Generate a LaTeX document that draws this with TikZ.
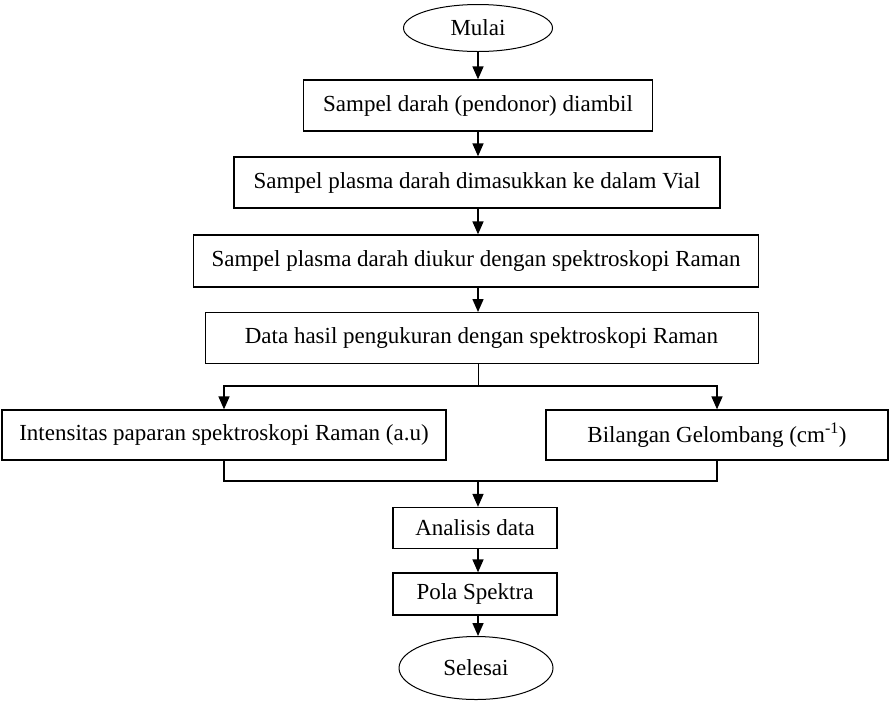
\documentclass[tikz,border=0pt]{standalone}
\usepackage{fontspec}
\setmainfont{Liberation Serif}
\usetikzlibrary{shapes.geometric,arrows.meta}
\begin{document}
\begin{tikzpicture}[
	x=1pt, y=-1pt,
	every node/.style={ font=\fontsize{23}{27}\selectfont },
	box/.style={ rectangle, draw, line width=1.3pt, inner sep=0pt },
	term/.style={ ellipse, draw, line width=1pt, inner sep=0pt },
	flow/.style={ line width=1.5pt, -{Triangle[length=13pt,width=11pt]} },
	link/.style={ line width=1.5pt }
]

\useasboundingbox (0,0) rectangle (890,705);

\node at (478,28) (mulai) [term,minimum width=149pt,minimum height=47pt] {Mulai};
\node at (478,105.5) (ambil) [box,minimum width=349pt,minimum height=51pt] {Sampel darah (pendonor) diambil};
\node at (477,182.5) (vial) [box,minimum width=486pt,minimum height=51pt] {Sampel plasma darah dimasukkan ke dalam Vial};
\node at (476,261) (ukur) [box,minimum width=565pt,minimum height=52pt] {Sampel plasma darah diukur dengan spektroskopi Raman};
\node at (481.5,338) (data) [box,line width=1pt,minimum width=553pt,minimum height=51pt] {Data hasil pengukuran dengan spektroskopi Raman};
\node at (224,435) (inten) [box,minimum width=444pt,minimum height=50pt] {Intensitas paparan spektroskopi Raman (a.u)};
\node at (717,435) (bil) [box,minimum width=342pt,minimum height=50pt] {Bilangan Gelombang (cm\textsuperscript{-1})};
\node at (475,528) (analisis) [box,minimum width=164pt,minimum height=41pt] {Analisis data};
\node at (475,594) (pola) [box,minimum width=164pt,minimum height=42pt] {Pola Spektra};
\node at (476,668) (selesai) [term,minimum width=154pt,minimum height=63pt] {Selesai};

\coordinate (split) at (478,386);
\coordinate (merge) at (478,481);

\draw[flow] (mulai) -- (ambil);
\draw[flow] (ambil.south -| mulai) -- (vial.north -| mulai);
\draw[flow] (vial.south -| mulai) -- (ukur.north -| mulai);
\draw[flow] (ukur.south -| mulai) -- (data.north -| mulai);
\draw[link,line width=1pt] (data.south -| mulai) -- (split);
\draw[flow] (split) -| (inten.north);
\draw[flow] (split) -| (bil.north);
\draw[link] (inten.south) |- (merge) -| (bil.south);
\draw[flow] (merge) -- (analisis.north -| merge);
\draw[flow] (analisis.south -| merge) -- (pola.north -| merge);
\draw[flow] (pola.south -| merge) -- (selesai.north -| merge);

\end{tikzpicture}
\end{document}
